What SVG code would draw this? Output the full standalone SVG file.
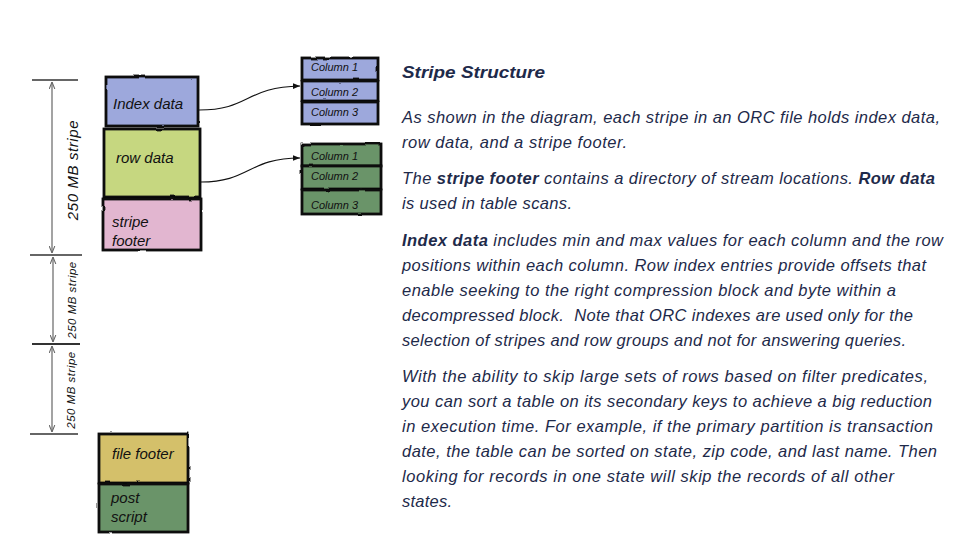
<svg xmlns="http://www.w3.org/2000/svg" width="960" height="540" viewBox="0 0 960 540">
<style>
.box{stroke:#111;stroke-width:2.8;filter:url(#rough)}
.blue{fill:#9da8dc}.lime{fill:#c6d780}.pink{fill:#e2b6d0}.green{fill:#6b9469}.gold{fill:#d4c06a}
.lbl{font-family:"Liberation Sans",sans-serif;font-style:italic;fill:#111;font-size:15px}
.col{font-family:"Liberation Sans",sans-serif;font-style:italic;fill:#111;font-size:11px}
.dim{font-family:"Liberation Sans",sans-serif;font-style:italic;fill:#111}
.tick{stroke:#333;stroke-width:1.4}
.dline{stroke:#666;stroke-width:1.2;marker-start:url(#ah);marker-end:url(#ah)}
.conn{fill:none;stroke:#111;stroke-width:1.1;marker-end:url(#ca)}
.para{font-family:"Liberation Sans",sans-serif;font-style:italic;fill:#1e2a4a;font-size:16.5px}
.b{font-weight:bold}
</style>
<defs>
<filter id="rough" x="-5%" y="-5%" width="110%" height="110%">
<feTurbulence type="fractalNoise" baseFrequency="0.06" numOctaves="2" seed="3"/>
<feDisplacementMap in="SourceGraphic" scale="2.2"/>
</filter>
<marker id="ah" viewBox="0 0 10 10" refX="10" refY="5" markerWidth="7" markerHeight="7" orient="auto-start-reverse" markerUnits="userSpaceOnUse">
<path d="M0,1 L10,5 L0,9" fill="none" stroke="#666" stroke-width="1.5"/>
</marker>
<marker id="ca" viewBox="0 0 10 10" refX="10" refY="5" markerWidth="7" markerHeight="7" orient="auto" markerUnits="userSpaceOnUse">
<path d="M0,1 L10,5 L0,9 Z" fill="#111"/>
</marker>
</defs>

<g id="dimensions">
<line class="tick" x1="32" y1="80" x2="78" y2="80"/>
<line class="dline" x1="52" y1="82" x2="52" y2="253"/>
<line class="tick" x1="30" y1="255" x2="82" y2="255"/>
<text class="dim" font-size="15" transform="translate(78,170) rotate(-90)" text-anchor="middle" letter-spacing="0.6">250 MB stripe</text>
<line class="dline" x1="53" y1="257" x2="53" y2="342"/>
<line class="tick" x1="32" y1="344" x2="80" y2="344" style="stroke-width:2"/>
<text class="dim" font-size="11.5" transform="translate(76,300) rotate(-90)" text-anchor="middle" letter-spacing="0.5">250 MB stripe</text>
<line class="dline" x1="52" y1="346" x2="52" y2="432"/>
<line class="tick" x1="30" y1="434" x2="78" y2="434"/>
<text class="dim" font-size="11.5" transform="translate(75,390) rotate(-90)" text-anchor="middle" letter-spacing="0.5">250 MB stripe</text>
</g>

<g id="index-data"><rect class="box blue" x="106" y="77" width="92" height="49"/><text class="lbl" x="113" y="109">Index data</text></g>
<g id="row-data"><rect class="box lime" x="104" y="129" width="96" height="68"/><text class="lbl" x="116" y="163">row data</text></g>
<g id="stripe-footer"><rect class="box pink" x="103" y="199" width="98" height="51"/><text class="lbl" x="112" y="227">stripe</text><text class="lbl" x="112" y="246">footer</text></g>

<g id="index-columns">
<rect class="box blue" x="302" y="58" width="76" height="22"/><text class="col" x="311" y="71">Column 1</text>
<rect class="box blue" x="302" y="81" width="76" height="20"/><text class="col" x="311" y="96">Column 2</text>
<rect class="box blue" x="302" y="102" width="76" height="22"/><text class="col" x="311" y="116">Column 3</text>
</g>
<g id="row-columns">
<rect class="box green" x="302" y="144" width="79" height="22"/><text class="col" x="311" y="160">Column 1</text>
<rect class="box green" x="302" y="166" width="79" height="23"/><text class="col" x="311" y="180">Column 2</text>
<rect class="box green" x="302" y="190" width="79" height="24"/><text class="col" x="311" y="209">Column 3</text>
</g>

<g id="file-footer"><rect class="box gold" x="99" y="434" width="89" height="49"/><text class="lbl" x="112" y="459">file footer</text></g>
<g id="post-script"><rect class="box green" x="99" y="484" width="89" height="48"/><text class="lbl" x="111" y="503">post</text><text class="lbl" x="111" y="522">script</text></g>

<g id="connectors">
<path class="conn" d="M199,110 C250,110 245,87 300,86"/>
<path class="conn" d="M201,182 C250,182 248,158 300,158"/>
</g>

<g id="description">
<text class="para b" x="402" y="78" font-size="19" textLength="143" lengthAdjust="spacingAndGlyphs">Stripe Structure</text>
<text class="para" x="402" y="123" textLength="538">As shown in the diagram, each stripe in an ORC file holds index data,</text>
<text class="para" x="402" y="148" textLength="225">row data, and a stripe footer.</text>
<text class="para" x="402" y="184" textLength="533">The <tspan class="b">stripe footer</tspan> contains a directory of stream locations. <tspan class="b">Row data</tspan></text>
<text class="para" x="402" y="209" textLength="170">is used in table scans.</text>
<text class="para" x="402" y="246" textLength="541"><tspan class="b">Index data</tspan> includes min and max values for each column and the row</text>
<text class="para" x="402" y="271" textLength="524">positions within each column. Row index entries provide offsets that</text>
<text class="para" x="402" y="296" textLength="494">enable seeking to the right compression block and byte within a</text>
<text class="para" x="402" y="321" textLength="511" xml:space="preserve">decompressed block.  Note that ORC indexes are used only for the</text>
<text class="para" x="402" y="346" textLength="504">selection of stripes and row groups and not for answering queries.</text>
<text class="para" x="402" y="382" textLength="526">With the ability to skip large sets of rows based on filter predicates,</text>
<text class="para" x="402" y="407" textLength="530">you can sort a table on its secondary keys to achieve a big reduction</text>
<text class="para" x="402" y="432" textLength="531">in execution time. For example, if the primary partition is transaction</text>
<text class="para" x="402" y="457" textLength="535">date, the table can be sorted on state, zip code, and last name. Then</text>
<text class="para" x="402" y="482" textLength="492">looking for records in one state will skip the records of all other</text>
<text class="para" x="402" y="507" textLength="50">states.</text>
</g>
</svg>
